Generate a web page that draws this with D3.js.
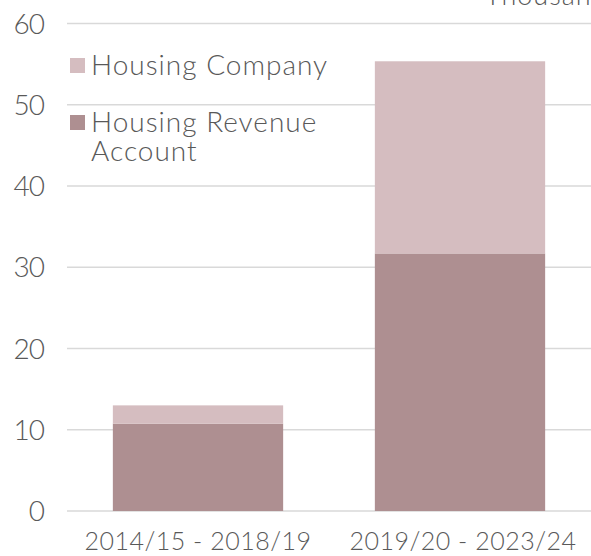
<!DOCTYPE html>
<html>
<head>
<meta charset="utf-8">
<script src="https://cdn.jsdelivr.net/npm/d3@7"></script>
<style>
  body { margin: 0; background: #fff; }
  svg text { font-family: "Lato", "DejaVu Sans", sans-serif; fill: #595959; font-weight: 300; }
</style>
</head>
<body>
<svg width="591" height="556"></svg>
<script>
const categories = ['2014/15 - 2018/19', '2019/20 - 2023/24'];
const seriesNames = ['Housing Revenue Account', 'Housing Company'];
const hraValues = [10.75, 31.7];
const companyValues = [2.25, 23.65];
const yTicks = [0, 10, 20, 30, 40, 50, 60];
const colors = ['#ae8f91', '#d5bdc0'];

const svg = d3.select('svg');
const plotLeft = 67, plotRight = 591, plotTop = 23.5, plotBottom = 511;

const x = d3.scaleBand().domain(categories).range([plotLeft, plotRight]).paddingInner(0.35).paddingOuter(0.175);
const y = d3.scaleLinear().domain([0, 60]).range([plotBottom, plotTop]);

// gridlines
svg.append('g').selectAll('line').data(yTicks)
    .enter().append('line')
    .attr('x1', plotLeft).attr('x2', plotRight)
    .attr('y1', d => y(d)).attr('y2', d => y(d))
    .attr('stroke', '#d9d9d9').attr('stroke-width', 1.5);

// y labels
svg.append('g').selectAll('text').data(yTicks)
    .enter().append('text')
    .attr('x', 44).attr('y', d => y(d) + 10)
    .attr('text-anchor', 'end')
    .attr('font-size', 28)
    .attr('letter-spacing', -1)
    .text(d => d);

// stacked bars
const rows = categories.map((c, i) => ({cat: c, hra: hraValues[i], company: companyValues[i]}));
const stack = d3.stack().keys(['hra', 'company'])(rows);

svg.append('g').selectAll('g').data(stack)
    .enter().append('g')
    .attr('fill', (d, i) => colors[i])
    .selectAll('rect').data(d => d)
    .enter().append('rect')
    .attr('x', d => x(d.data.cat))
    .attr('width', x.bandwidth())
    .attr('y', d => y(d[1]))
    .attr('height', d => y(d[0]) - y(d[1]));

// x labels
svg.append('g').selectAll('text').data(categories)
    .enter().append('text')
    .attr('x', (d, i) => x(d) + x.bandwidth() / 2 + i * 3)
    .attr('y', 550)
    .attr('text-anchor', 'middle')
    .attr('font-size', 25)
    .attr('letter-spacing', 0.5)
    .text(d => d);

// units label, clipped at the top
svg.append('text')
    .attr('x', 485).attr('y', 5)
    .attr('font-size', 27)
    .attr('letter-spacing', 1)
    .text('Thousands');

// legend
const legend = [
    {name: 'Housing Company', color: colors[1], y: 58, lines: ['Housing Company']},
    {name: 'Housing Revenue Account', color: colors[0], y: 115, lines: ['Housing Revenue', 'Account']}
];
const lg = svg.append('g').selectAll('g').data(legend).enter().append('g');
lg.append('rect')
    .attr('x', 70).attr('y', d => d.y)
    .attr('width', 15).attr('height', 15)
    .attr('fill', d => d.color);
lg.append('text')
    .attr('x', 91).attr('y', d => d.y + 17)
    .attr('font-size', 28)
    .attr('letter-spacing', 1)
    .selectAll('tspan').data(d => d.lines)
    .enter().append('tspan')
    .attr('x', 91).attr('dy', (d, i) => i === 0 ? 0 : 29)
    .text(d => d);
</script>
</body>
</html>
